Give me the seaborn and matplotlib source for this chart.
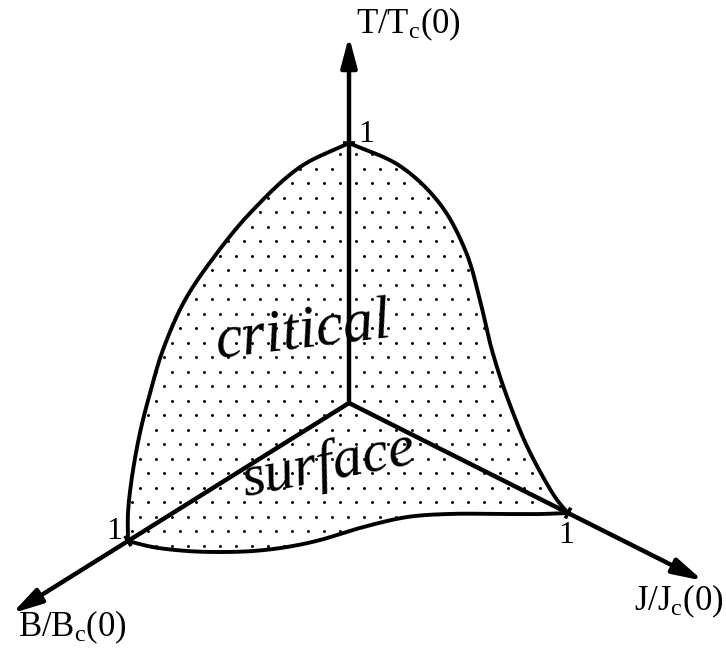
import numpy as np
import matplotlib
matplotlib.use("Agg")
import matplotlib.pyplot as plt
import seaborn as sns

# Boundary of the critical surface, in reduced units (B/Bc(0), J/Jc(0), T/Tc(0)).
# T-B face (J = 0)
tb_field = [0.0, 0.222, 0.448, 0.597, 0.742, 0.842, 0.900, 0.946, 0.982, 1.0, 1.0]
tb_temp = [1.0, 1.025, 0.968, 0.894, 0.790, 0.651, 0.517, 0.387, 0.237, 0.108, 0.0]
# T-J face (B = 0)
tj_current = [0.0, 0.233, 0.416, 0.534, 0.598, 0.644, 0.690, 0.744, 0.808,
              0.886, 0.950, 1.0]
tj_temp = [1.0, 1.010, 0.941, 0.807, 0.649, 0.503, 0.392, 0.288, 0.184,
           0.090, 0.029, 0.0]
# B-J face (T = 0)
bj_field = [1.0, 0.974, 0.921, 0.859, 0.788, 0.703, 0.609, 0.480, 0.341,
            0.242, 0.127, 0.061, 0.0]
bj_current = [0.0, 0.088, 0.190, 0.277, 0.357, 0.427, 0.482, 0.534, 0.609,
              0.705, 0.850, 0.933, 1.0]

axis_labels = ["B/B$_\\mathrm{c}$(0)", "J/J$_\\mathrm{c}$(0)", "T/T$_\\mathrm{c}$(0)"]
tick_label = "1"
surface_words = ["critical", "surface"]

sns.set_theme(style="white")
plt.rcParams["font.family"] = ["Liberation Serif", "DejaVu Serif"]
plt.rcParams["text.color"] = "black"
plt.rcParams["mathtext.fontset"] = "custom"
plt.rcParams["mathtext.rm"] = "Liberation Serif"
plt.rcParams["mathtext.it"] = "Liberation Serif:italic"

# Oblique projection of the three reduced axes onto the page
ORIGIN = np.array([349.0, 403.0])
E_B = np.array([-221.0, 138.0])
E_J = np.array([219.0, 110.0])
E_T = np.array([0.0, -260.0])


def project(b, j, t):
    b, j, t = (np.asarray(v, float) for v in (b, j, t))
    pts = ORIGIN + np.outer(b, E_B) + np.outer(j, E_J) + np.outer(t, E_T)
    return pts[:, 0], pts[:, 1]


def smooth(x, y, n=20, alpha=0.5):
    """Centripetal Catmull-Rom curve through the boundary points."""
    p = np.column_stack([x, y])
    p = np.vstack([2 * p[0] - p[1], p, 2 * p[-1] - p[-2]])
    out = []
    for i in range(1, len(p) - 2):
        p0, p1, p2, p3 = p[i - 1], p[i], p[i + 1], p[i + 2]
        t0 = 0.0
        t1 = t0 + np.linalg.norm(p1 - p0) ** alpha
        t2 = t1 + np.linalg.norm(p2 - p1) ** alpha
        t3 = t2 + np.linalg.norm(p3 - p2) ** alpha
        t = np.linspace(t1, t2, n, endpoint=False)[:, None]
        a1 = (t1 - t) / (t1 - t0) * p0 + (t - t0) / (t1 - t0) * p1
        a2 = (t2 - t) / (t2 - t1) * p1 + (t - t1) / (t2 - t1) * p2
        a3 = (t3 - t) / (t3 - t2) * p2 + (t - t2) / (t3 - t2) * p3
        b1 = (t2 - t) / (t2 - t0) * a1 + (t - t0) / (t2 - t0) * a2
        b2 = (t3 - t) / (t3 - t1) * a2 + (t - t1) / (t3 - t1) * a3
        out.append((t2 - t) / (t2 - t1) * b1 + (t - t1) / (t2 - t1) * b2)
    out.append(p[-2][None, :])
    out = np.vstack(out)
    return out[:, 0], out[:, 1]


n_tb = len(tb_field)
n_tj = len(tj_current)
n_bj = len(bj_field)
left_x, left_y = smooth(*project(tb_field, np.zeros(n_tb), tb_temp))
right_x, right_y = smooth(*project(np.zeros(n_tj), tj_current, tj_temp))
bottom_x, bottom_y = smooth(*project(bj_field, bj_current, np.zeros(n_bj)))

fig = plt.figure(figsize=(7.26, 6.48), dpi=100)
ax = fig.add_axes([0, 0, 1, 1])
ax.set_xlim(0, 726)
ax.set_ylim(648, 0)
ax.axis("off")

# Critical surface: white patch carrying a stipple texture
outline_x = np.concatenate([left_x, bottom_x, right_x[::-1]])
outline_y = np.concatenate([left_y, bottom_y, right_y[::-1]])
surface_patch = ax.fill(outline_x, outline_y, facecolor="white",
                        edgecolor="none", zorder=1)[0]

step_x, step_y = 16.0, 14.5
gx = np.arange(100, 620, step_x)
gy = np.arange(125, 570, step_y)
GX, GY = np.meshgrid(gx, gy)
GX[1::2] += step_x / 2
stipple = ax.scatter(GX.ravel(), GY.ravel(), s=4.5, color="black",
                     linewidths=0, zorder=2)
stipple.set_clip_path(surface_patch)

# Boundary curves
for cx, cy in [(left_x, left_y), (right_x, right_y), (bottom_x, bottom_y)]:
    sns.lineplot(x=cx, y=cy, sort=False, ax=ax, color="black", linewidth=2.8,
                 estimator=None, zorder=3)

# Coordinate axes with arrow heads
axis_reach = {"B": 1.525, "J": 1.616, "T": 1.41}
tips = [project([axis_reach["B"]], [0], [0]),
        project([0], [axis_reach["J"]], [0]),
        project([0], [0], [axis_reach["T"]])]
for tx, ty in tips:
    ax.annotate("", xy=(tx[0], ty[0]), xytext=tuple(ORIGIN),
                arrowprops=dict(arrowstyle="-|>,head_length=0.9,head_width=0.24",
                                lw=3.2, color="black", shrinkA=0, shrinkB=0,
                                mutation_scale=20), zorder=4)

# Unit marks on each axis
units = [project([1], [0], [0]), project([0], [1], [0]), project([0], [0], [1])]
dirs = [E_B, E_J, E_T]
for (ux, uy), d in zip(units, dirs):
    perp = np.array([-d[1], d[0]]) / np.hypot(*d) * 6
    ax.plot([ux[0] - perp[0], ux[0] + perp[0]], [uy[0] - perp[1], uy[0] + perp[1]],
            color="black", lw=2.6, solid_capstyle="butt", zorder=4)

fs_tick = 23
bx, by = units[0]
jx, jy = units[1]
tx_, ty_ = units[2]
ax.text(bx[0] - 6, by[0] - 2, tick_label, fontsize=fs_tick, ha="right", va="baseline")
ax.text(jx[0] - 2, jy[0] + 8, tick_label, fontsize=fs_tick, ha="center", va="top")
ax.text(tx_[0] + 9, ty_[0] - 1, tick_label, fontsize=fs_tick, ha="left", va="baseline")

# Axis titles
fs_lab = 25
ax.text(18, 636, axis_labels[0], fontsize=fs_lab, ha="left", va="baseline")
ax.text(724, 610, axis_labels[1], fontsize=fs_lab, ha="right", va="baseline")
ax.text(356, 33, axis_labels[2], fontsize=fs_lab, ha="left", va="baseline")

# Words written across the surface
ax.text(303, 333, surface_words[0], fontsize=44, style="italic",
        ha="center", va="center", rotation=7, rotation_mode="anchor", zorder=5)
ax.text(328, 466, surface_words[1], fontsize=43, style="italic",
        ha="center", va="center", rotation=11, rotation_mode="anchor", zorder=5)

fig.savefig("out.png", dpi=100, facecolor="white")
